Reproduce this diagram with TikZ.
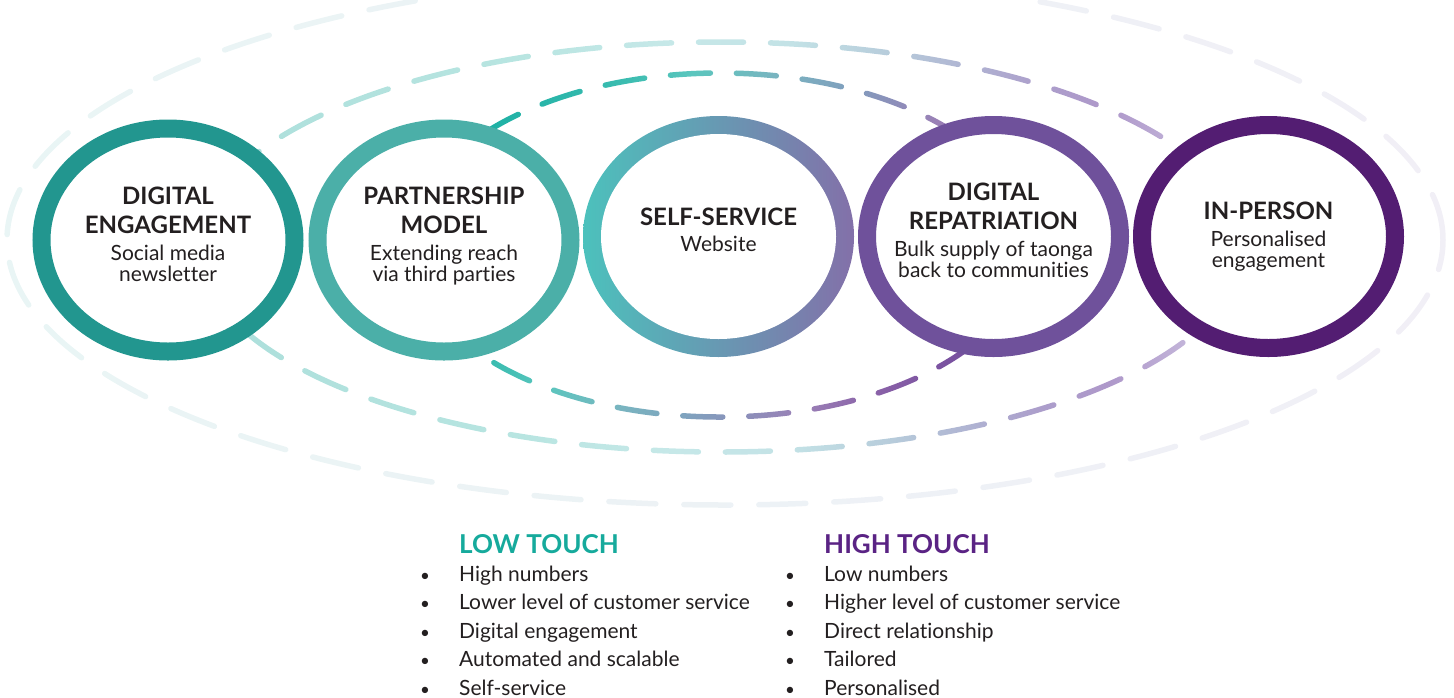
\documentclass[tikz,border=0pt]{standalone}
\usepackage{fontspec}
\setmainfont{Lato}[Ligatures=CommonOff]
\usetikzlibrary{shapes.geometric,fadings}

% ring colours
\definecolor{ringone}{HTML}{22968F}
\definecolor{ringtwo}{HTML}{4BAFA8}
\definecolor{ringthreeL}{HTML}{4CC1BC}
\definecolor{ringthreeM}{HTML}{5A9DB8}
\definecolor{ringthreeR}{HTML}{8370A9}
\definecolor{ringfour}{HTML}{6F519B}
\definecolor{ringfive}{HTML}{531D72}
\definecolor{inktext}{HTML}{231F20}
\definecolor{lowtouch}{HTML}{16AA9C}
\definecolor{hightouch}{HTML}{5A2384}

% colours of the dashed loops
\definecolor{outerL}{HTML}{E9F5F5}
\definecolor{outerM}{HTML}{EFF3F6}
\definecolor{outerR}{HTML}{F1EFF6}
\definecolor{midA}{HTML}{AADFDA}
\definecolor{midB}{HTML}{AEE0DC}
\definecolor{midC}{HTML}{B8E5E1}
\definecolor{midD}{HTML}{C6E8E8}
\definecolor{midE}{HTML}{C3E2E6}
\definecolor{midF}{HTML}{B7CCDB}
\definecolor{midG}{HTML}{B0B6D3}
\definecolor{midH}{HTML}{AC9ECB}
\definecolor{midI}{HTML}{AE98CA}
\definecolor{midJ}{HTML}{C4B6DA}
\definecolor{midK}{HTML}{CBBFDF}
\definecolor{inA}{HTML}{14ADA0}
\definecolor{inB}{HTML}{1FB1A5}
\definecolor{inC}{HTML}{3DBDB1}
\definecolor{inD}{HTML}{5BC6BE}
\definecolor{inE}{HTML}{79B5C0}
\definecolor{inF}{HTML}{7FA2BE}
\definecolor{inG}{HTML}{8B90BA}
\definecolor{inH}{HTML}{9A80B6}
\definecolor{inI}{HTML}{8A62A8}
\definecolor{inJ}{HTML}{7A52A0}
\definecolor{inK}{HTML}{724B9C}

\pgfdeclarehorizontalshading{midrun}{100bp}{color(0bp)=(midA); color(25bp)=(midA);
  color(28.4bp)=(midB); color(40.5bp)=(midC); color(47.6bp)=(midD); color(53.3bp)=(midE);
  color(58bp)=(midF); color(61.3bp)=(midG); color(65bp)=(midH); color(68.3bp)=(midI);
  color(72.1bp)=(midJ); color(75bp)=(midK); color(100bp)=(midK)}
\pgfdeclarehorizontalshading{innerrun}{100bp}{color(0bp)=(inA); color(27.3bp)=(inA);
  color(30bp)=(inB); color(38.2bp)=(inC); color(42.3bp)=(inD); color(48.2bp)=(inE);
  color(53.2bp)=(inF); color(57.2bp)=(inG); color(61.3bp)=(inH); color(65.8bp)=(inI);
  color(69.9bp)=(inJ); color(72.6bp)=(inK); color(100bp)=(inK)}

% fonts
\newcommand\headfont{\fontsize{24}{29}\selectfont\bfseries}
\newcommand\bodyfont{\fontsize{21}{21}\selectfont}

% dashed loops, kept as fadings so a colour run can be laid through them
\begin{tikzfadingfrompicture}[name=outerloop, x=1pt, y=1pt]
  \path (-730,-277) rectangle (730,277);
  \draw[transparent!0, line width=5.5pt, line cap=round, dash pattern=on 47pt off 28pt]
    (0,0) ellipse (718 and 265);
\end{tikzfadingfrompicture}
\begin{tikzfadingfrompicture}[name=midloop, x=1pt, y=1pt]
  \path (-530,-213) rectangle (530,213);
  \draw[transparent!0, line width=5.5pt, line cap=round, dash pattern=on 45pt off 27pt]
    (0,0) ellipse (522 and 205);
\end{tikzfadingfrompicture}
\begin{tikzfadingfrompicture}[name=innerloop, x=1pt, y=1pt]
  \path (-320,-320) rectangle (320,320);
  \draw[transparent!0, line width=5.5pt, line cap=round, dash pattern=on 40pt off 26pt]
    (0,0) ellipse (310 and 172);
\end{tikzfadingfrompicture}

\begin{document}
\begin{tikzpicture}[
    x=1pt, y=-1pt,
    ring/.style={ellipse, minimum width=253pt, minimum height=223pt,
      line width=18pt, fill=white, inner sep=0pt},
    ringtext/.style={align=center, text=inktext, font=\bodyfont, inner sep=0pt},
    listhead/.style={font=\fontsize{26}{26}\selectfont\bfseries, anchor=base west, inner sep=0pt},
    listitem/.style={font=\fontsize{21}{21}\selectfont, text=inktext, anchor=base west, inner sep=0pt},
    listdot/.style={font=\fontsize{17}{17}\selectfont, text=inktext, anchor=base, inner sep=0pt}
    ]
    \useasboundingbox (0,0) rectangle (1454,697);

    % the three dashed loops
    \begin{scope}
      \clip (0,0) rectangle (1454,697);
      \shade[left color=outerL, middle color=outerM, right color=outerR,
        path fading=outerloop, fit fading=false, fading transform={shift={(725,240)}}]
        (-5,-37) rectangle (1455,517);
      \shade[shading=midrun, path fading=midloop, fit fading=false,
        fading transform={shift={(721,247)}}] (191,34) rectangle (1251,460);
      \shade[shading=innerrun, shading angle=-25, path fading=innerloop, fit fading=false,
        fading transform={shift={(720,245)}}] (400,-75) rectangle (1040,565);
    \end{scope}

    % rings
    \node[ring, draw=ringone] (r1) at (168,240) {};
    \node[ring, draw=ringtwo] (r2) at (444,240) {};
    \node[ring, draw=none, minimum width=271pt, minimum height=241pt,
      left color=ringthreeL, middle color=ringthreeM, right color=ringthreeR] (r3) at (718.5,236.5) {};
    \node[ring, draw=none, minimum width=235pt, minimum height=205pt] (r3in) at (r3.center) {};
    \node[ring, draw=ringfour] (r4) at (993.5,236.5) {};
    \node[ring, draw=ringfive] (r5) at (1268.5,236.5) {};

    % ring labels
    \node[ringtext] (t1) at ([yshift=6pt]r1.center)
      {{\headfont DIGITAL}\\[8pt]{\headfont ENGAGEMENT}\\[6pt]Social media\\newsletter};
    \node[ringtext] (t2) at ([yshift=4pt]r2.center)
      {{\headfont PARTNERSHIP}\\[8pt]{\headfont MODEL}\\[6pt]Extending reach\\via third parties};
    \node[ringtext] (t3) at ([yshift=7pt]r3.center)
      {{\headfont SELF-SERVICE}\\[5pt]Website};
    \node[ringtext] (t4) at ([yshift=6.5pt]r4.center)
      {{\headfont DIGITAL}\\[8pt]{\headfont REPATRIATION}\\[6pt]Bulk supply of taonga\\back to communities};
    \node[ringtext] (t5) at ([yshift=0pt]r5.center)
      {{\headfont IN-PERSON}\\[6pt]Personalised\\engagement};

    % low touch / high touch lists
    \node[listhead, text=lowtouch] (lowhead) at (459,553) {LOW TOUCH};
    \foreach \entry [count=\i] in {High numbers, Lower level of customer service,
        Digital engagement, Automated and scalable, Self-service}
      {
      \node[listdot] (lowdot\i) at (425,553+28.4*\i) {\textbullet};
      \node[listitem] (low\i) at (459,553+28.4*\i) {\entry};
      }
    \node[listhead, text=hightouch] (highhead) at (824,553) {HIGH TOUCH};
    \foreach \entry [count=\i] in {Low numbers, Higher level of customer service,
        Direct relationship, Tailored, Personalised}
      {
      \node[listdot] (highdot\i) at (790,553+28.4*\i) {\textbullet};
      \node[listitem] (high\i) at (824,553+28.4*\i) {\entry};
      }
\end{tikzpicture}
\end{document}
